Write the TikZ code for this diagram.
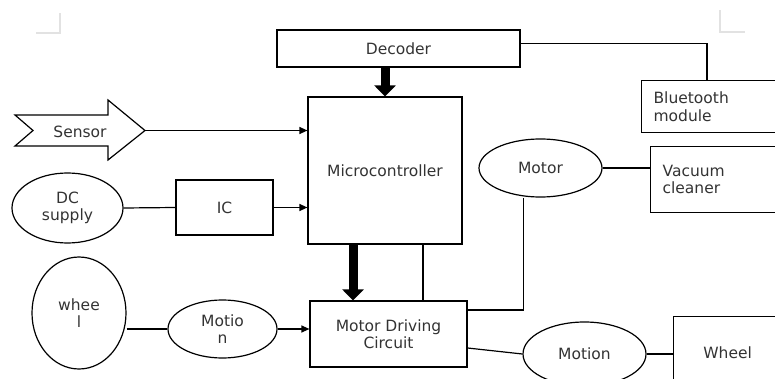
\documentclass[tikz,border=0pt]{standalone}
\usepackage{fontspec}
\setmainfont{DejaVu Sans}
\usepackage{xcolor}
\usepackage{tikz}
\usetikzlibrary{positioning, arrows.meta, shapes.geometric}
\definecolor{textgray}{HTML}{333333}
\definecolor{markgray}{HTML}{E2E2E2}
\tikzset{
  box/.style={draw, line width=1.2pt, inner sep=0pt, text=textgray},
  oval/.style={ellipse, draw, line width=1.2pt, inner sep=0pt, align=center, text=textgray},
  link/.style={line width=1.2pt},
  arr/.style={link, -{Triangle[length=8pt, width=7pt]}},
  fatarr/.style={line width=9pt, -{Triangle[length=11pt, width=21pt]}}
}

\begin{document}
\begin{tikzpicture}[x=1pt, y=-1pt, font=\fontsize{15.5}{17.5}\selectfont]
    \clip (0,0) rectangle (775,379);
    \draw[markgray, line width=2pt] (36,33) -- (60,33) -- (60,13);
    \draw[markgray, line width=2pt] (720,10) -- (720,32) -- (745,32);

    \node[box, minimum width=243pt, minimum height=37pt] (decoder) at (398.5,48.5) {Decoder};
    \node[box, minimum width=154pt, minimum height=147pt] (mc) at (385,170.5) {Microcontroller};
    \node[box, anchor=north west, minimum width=150pt, minimum height=52pt,
          text width=130pt, inner xsep=12pt, align=left] (bt) at (641,80) {Bluetooth\\module};
    \node[box, anchor=north west, minimum width=150pt, minimum height=66pt,
          text width=130pt, inner xsep=12pt, align=left] (vac) at (650,146) {Vacuum\\cleaner};
    \node[oval, minimum width=123pt, minimum height=58pt] (motor) at (540.5,168) {Motor};
    \node[oval, minimum width=111pt, minimum height=70pt] (dc) at (67.5,208) {DC\\supply};
    \node[box, minimum width=97pt, minimum height=55pt] (ic) at (224.5,207.5) {IC};
    \node[oval, minimum width=94pt, minimum height=112pt] (wheel) at (79,313) {whee\\l};
    \node[oval, minimum width=109pt, minimum height=58pt] (motio) at (222.5,329) {Motio\\n};
    \node[box, minimum width=157pt, minimum height=66pt, align=center] (mdc) at (388.5,334) {Motor Driving\\Circuit};
    \node[oval, minimum width=123pt, minimum height=64pt] (motion) at (584.5,354) {Motion};
    \node[box, anchor=north west, minimum width=108pt, minimum height=72pt] (wheelbox) at (673,316) {Wheel};

    \draw[link] (15,115) -- (33,130.5) -- (15,146) -- (108,146) -- (108,160)
                -- (145,130.5) -- (108,100) -- (108,115) -- cycle;
    \node[text=textgray] (sensor) at (80,132) {Sensor};
    \coordinate (sensortip) at (145,130.5);

    \draw[link] ([yshift=5pt]decoder.east) -| ([xshift=66pt]bt.north west);
    \draw[arr] (sensortip) -- (sensortip -| mc.west);
    \draw[link] (dc.east) -- (ic.west);
    \draw[arr] (ic.east) -- (ic.east -| mc.west);
    \draw[fatarr] (mc.north |- decoder.south) -- (mc.north);
    \draw[fatarr] ([xshift=-32pt]mc.south) -- ([xshift=-32pt]mc.south |- mdc.north);
    \draw[link] ([xshift=38pt]mc.south) -- ([xshift=38pt]mc.south |- mdc.north);
    \draw[link] ([yshift=24pt]mdc.east) -| ([xshift=-17pt]motor.south);
    \draw[link] (motor.east) -- (motor.east -| vac.west);
    \draw[link] ([yshift=-14pt]mdc.east) -- (motion.west);
    \draw[link] (motion.east) -- (motion.east -| wheelbox.west);
    \draw[link] (motio.west -| wheel.east) -- (motio.west);
    \draw[arr] (motio.east) -- (motio.east -| mdc.west);
\end{tikzpicture}
\end{document}
